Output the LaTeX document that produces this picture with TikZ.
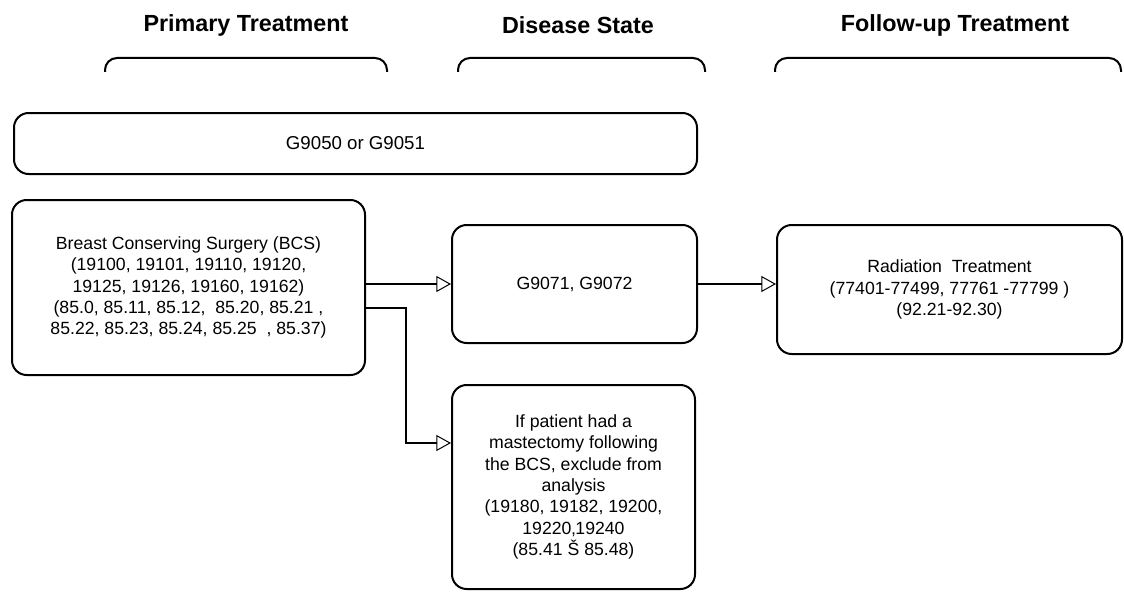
\documentclass[tikz,border=0pt]{standalone}
\usepackage{fontspec}
\setmainfont{Liberation Sans}
\usetikzlibrary{arrows.meta}

\begin{document}
\begin{tikzpicture}[x=0.75pt, y=-0.75pt]
	\tikzset{
		stage box/.style={draw, line width=1.5pt, rounded corners=11pt, align=center,
			inner sep=0pt, font=\fontsize{13.25}{16}\selectfont},
		stage title/.style={anchor=base, font=\bfseries\fontsize{17.5}{20}\selectfont},
		head curl/.style={line width=1.5pt, rounded corners=9pt},
		flow line/.style={line width=1.5pt, -{Triangle[open, length=11pt, width=12pt, line width=0.75pt]}}
	}
	\useasboundingbox (0, 0) rectangle (1124, 592);
	% column headings
	\node [stage title] (primary) at (246, 32) {Primary Treatment};
	\node [stage title] (disease) at (578, 33.5) {Disease State};
	\node [stage title] (followup) at (955, 31.5) {Follow-up Treatment};
	\draw [head curl] (105, 72) -- (105, 58) -- (387, 58) -- (387, 72);
	\draw [head curl] (458, 72) -- (458, 58) -- (705, 58) -- (705, 72);
	\draw [head curl] (775, 72) -- (775, 58) -- (1121, 58) -- (1121, 72);
	% boxes
	\node [stage box, minimum width=512.25pt, minimum height=45.75pt, font=\fontsize{14}{16}\selectfont] (gcode) at (355.5, 143.5) {G9050 or G9051};
	\node [stage box, minimum width=264.75pt, minimum height=131.25pt] (bcs) at (188.5, 287.5)
		{Breast Conserving Surgery (BCS)\\(19100, 19101, 19110, 19120,\\19125, 19126, 19160, 19162)\\(85.0, 85.11, 85.12,\ \ 85.20, 85.21 ,\\85.22, 85.23, 85.24, 85.25\ \ , 85.37)};
	\node [stage box, minimum width=183.75pt, minimum height=88.5pt] (recur) at (574.5, 284) {G9071, G9072};
	\node [stage box, minimum width=258.75pt, minimum height=96.75pt] (radiation) at (949.5, 289.5)
		{Radiation\ \ Treatment\\(77401-77499, 77761 -77799 )\\(92.21-92.30)};
	\node [stage box, minimum width=182.25pt, minimum height=153pt] (mastect) at (573.5, 487)
		{If patient had a\\mastectomy following\\the BCS, exclude from\\analysis\\(19180, 19182, 19200,\\19220‚19240\\(85.41\ Š 85.48)};
	% connectors
	\draw [flow line] (bcs.east |- recur.west) -- (recur.west);
	\draw [flow line] ([yshift=-15pt]bcs.east) -- ++(40, 0) |- ([yshift=33pt]mastect.west);
	\draw [flow line] (recur.east) -- (recur.east -| radiation.west);
\end{tikzpicture}
\end{document}
